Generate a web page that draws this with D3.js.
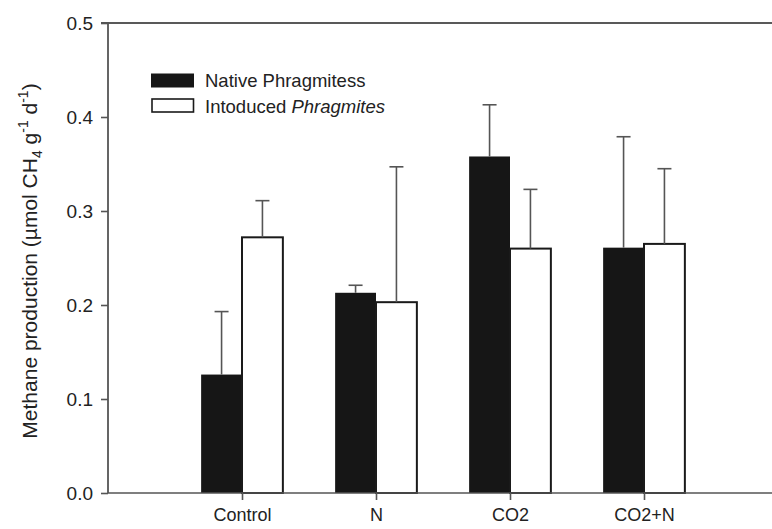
<!DOCTYPE html>
<html>
<head>
<meta charset="utf-8">
<script src="https://cdn.jsdelivr.net/npm/d3@7"></script>
<style>
  html, body { margin: 0; padding: 0; background: #fff; }
  svg { display: block; font-family: "Liberation Sans", Arial, Helvetica, sans-serif; }
</style>
</head>
<body>
<svg id="chart" width="772" height="529"></svg>
<script>
const categories = ["Control", "N", "CO2", "CO2+N"];
const nativeMean = [0.126, 0.213, 0.358, 0.261];
const nativeErr  = [0.193, 0.221, 0.413, 0.379];
const introMean  = [0.272, 0.203, 0.260, 0.265];
const introErr   = [0.311, 0.347, 0.323, 0.345];
const yTicks = [0.0, 0.1, 0.2, 0.3, 0.4, 0.5];
const seriesNames = ["Native Phragmitess", "Intoduced "];

(function () {
const svg = d3.select("#chart");
const mLeft = 108, mTop = 23, mBottom = 493, rightEdge = 772;

const x = d3.scaleLinear().domain([0, 5]).range([mLeft, mLeft + 5 * 134]);
const y = d3.scaleLinear().domain([0, 0.5]).range([mBottom, mTop]);
const barW = x(0.305) - x(0);

const darkFill = "#161616";
const axisCol = "#555";

const g = svg.append("g");
categories.forEach((c, i) => {
  const cx = x(i + 1);
  g.append("rect")
    .attr("x", cx - barW).attr("y", y(nativeMean[i]))
    .attr("width", barW).attr("height", y(0) - y(nativeMean[i]))
    .attr("fill", darkFill).attr("stroke", "none");
  g.append("rect")
    .attr("x", cx).attr("y", y(introMean[i]))
    .attr("width", barW).attr("height", y(0) - y(introMean[i]))
    .attr("fill", "#fff").attr("stroke", "#1a1a1a").attr("stroke-width", 2);
});

function errBar(xc, v0, v1) {
  g.append("line").attr("x1", xc).attr("x2", xc).attr("y1", y(v0)).attr("y2", y(v1))
    .attr("stroke", axisCol).attr("stroke-width", 1.6);
  g.append("line").attr("x1", xc - 7).attr("x2", xc + 7).attr("y1", y(v1)).attr("y2", y(v1))
    .attr("stroke", axisCol).attr("stroke-width", 1.6);
}
categories.forEach((c, i) => {
  const cx = x(i + 1);
  errBar(cx - barW / 2, nativeMean[i], nativeErr[i]);
  errBar(cx + barW / 2, introMean[i], introErr[i]);
});

svg.append("line").attr("x1", mLeft).attr("x2", rightEdge).attr("y1", mTop).attr("y2", mTop)
  .attr("stroke", "#222").attr("stroke-width", 1.6);

const yAxis = d3.axisLeft(y).tickValues(yTicks).tickFormat(d3.format(".1f")).tickSize(7).tickPadding(8);
const ya = svg.append("g").attr("transform", `translate(${mLeft},0)`).call(yAxis);
ya.select(".domain").attr("stroke", axisCol).attr("stroke-width", 1.8).attr("d", `M-7,${mTop}H0V${mBottom}`);
ya.selectAll(".tick line").attr("stroke", axisCol).attr("stroke-width", 1.6);
ya.selectAll(".tick text").attr("fill", "#222").style("font-size", "19px")
  .style("font-family", '"Liberation Sans", Arial, sans-serif');

const xAxis = d3.axisBottom(x).tickValues([1, 2, 3, 4]).tickFormat((d) => categories[d - 1]).tickSize(7).tickPadding(8);
const xa = svg.append("g").attr("transform", `translate(0,${mBottom})`).call(xAxis);
xa.select(".domain").attr("stroke", axisCol).attr("stroke-width", 1.6).attr("d", `M${mLeft},0H${rightEdge}`);
xa.selectAll(".tick line").attr("stroke", axisCol).attr("stroke-width", 1.6);
xa.selectAll(".tick text").attr("fill", "#222").style("font-size", "18px")
  .style("font-family", '"Liberation Sans", Arial, sans-serif');

const yl = svg.append("text")
  .attr("transform", `translate(37,261) rotate(-90)`)
  .attr("text-anchor", "middle").attr("fill", "#222").style("font-size", "21px");
yl.append("tspan").text("Methane production (µmol CH");
yl.append("tspan").text("4").attr("dy", 5).style("font-size", "14px");
yl.append("tspan").text(" g").attr("dy", -5);
yl.append("tspan").text("-1").attr("dy", -9).style("font-size", "14px");
yl.append("tspan").text(" d").attr("dy", 9);
yl.append("tspan").text("-1").attr("dy", -9).style("font-size", "14px");
yl.append("tspan").text(")").attr("dy", 9);

const lg = svg.append("g");
lg.append("rect").attr("x", 151).attr("y", 73.5).attr("width", 43).attr("height", 14).attr("fill", darkFill);
lg.append("text").attr("x", 205).attr("y", 87).attr("fill", "#222").style("font-size", "18.5px").text(seriesNames[0]);
lg.append("rect").attr("x", 152).attr("y", 99).attr("width", 41.5).attr("height", 13)
  .attr("fill", "#fff").attr("stroke", "#1a1a1a").attr("stroke-width", 1.6);
const t2 = lg.append("text").attr("x", 205).attr("y", 112.5).attr("fill", "#222").style("font-size", "18.5px");
t2.append("tspan").text(seriesNames[1]);
t2.append("tspan").text("Phragmites").style("font-style", "italic");
})();
</script>
</body>
</html>
